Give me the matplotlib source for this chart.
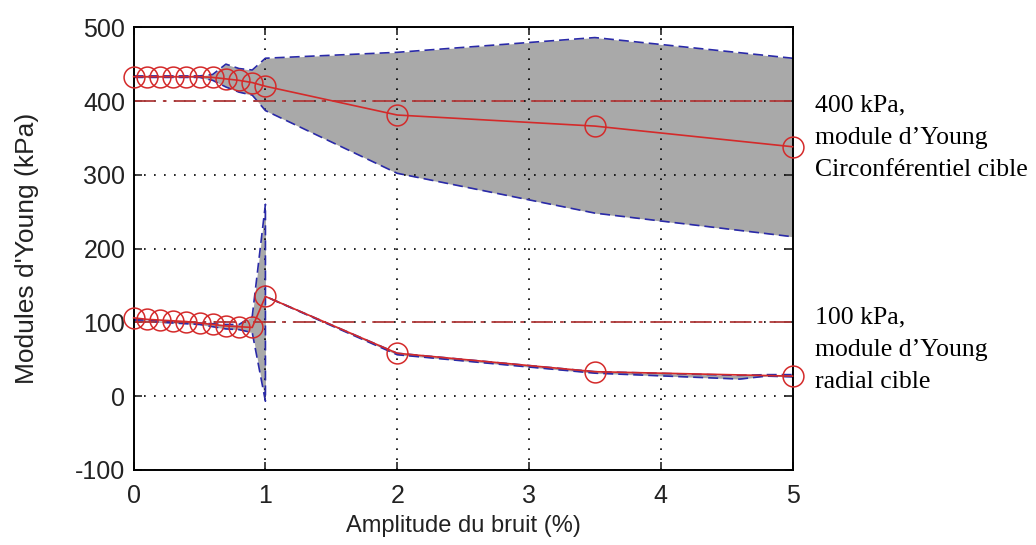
import matplotlib.pyplot as plt

# bruit (%) et modules estimes
bruit = [0, 0.1, 0.2, 0.3, 0.4, 0.5, 0.6, 0.7, 0.8, 0.9, 1.0, 2, 3.5, 5]
e_circ = [433, 433, 433, 433, 433, 433, 432, 430, 428, 425, 420, 381, 366, 338]
e_rad = [106, 104, 103, 102, 101, 99, 97, 95, 94, 93, 135, 58, 33, 27]

# enveloppes (min / max)
x_env_circ = [0, 0.1, 0.2, 0.3, 0.4, 0.5, 0.6, 0.7, 0.8, 0.9, 1.0, 2, 3.5, 5]
circ_haut = [434, 434, 434, 434, 434, 434, 436, 450, 444, 442, 458, 466, 486, 458]
circ_bas = [432, 432, 432, 432, 432, 432, 428, 419, 412, 408, 387, 302, 248, 216]

x_env_rad = [0, 0.1, 0.2, 0.3, 0.4, 0.5, 0.6, 0.7, 0.8, 0.9, 1.0, 1.0, 2, 3.5, 4.6, 4.8, 5]
rad_haut = [104, 103, 102, 101, 100, 99, 98, 97, 97, 108, 260, 135, 58, 33, 28, 29, 29]
rad_bas = [102, 101, 100, 99, 98, 97, 94, 91, 90, 86, -7, 135, 56, 31, 23, 27, 26]

cibles = [400, 100]

plt.rcParams['font.family'] = ['Liberation Sans', 'DejaVu Sans']
plt.rcParams['axes.unicode_minus'] = False

fig = plt.figure(figsize=(10.36, 5.45), dpi=100)
ax = fig.add_axes([0.129, 0.138, 0.636, 0.812])

gris = '#a9a9a9'
bleu = '#2a2aa8'
rouge = '#d42a2a'
rouge_fonce = '#b03a3a'

ax.fill_between(x_env_circ, circ_bas, circ_haut, color=gris, lw=0, zorder=0.5)
ax.fill_between(x_env_rad, rad_bas, rad_haut, color=gris, lw=0, zorder=0.5)
for xs, ys in [(x_env_circ, circ_haut), (x_env_circ, circ_bas),
               (x_env_rad, rad_haut), (x_env_rad, rad_bas)]:
    ax.plot(xs, ys, color=bleu, lw=1.2, ls=(0, (6, 3)), zorder=1.8)

for c in cibles:
    ax.axhline(c, color=rouge_fonce, lw=1.3, ls=(0, (12, 4, 2, 4)), zorder=1.9)

for ys in [e_circ, e_rad]:
    ax.plot(bruit, ys, color=rouge, lw=1.2, marker='o', ms=15, mfc='none',
            mec=rouge, mew=1.1, zorder=3, clip_on=False)

ax.set_xlim(0, 5)
ax.set_ylim(-100, 500)
ax.set_xticks([0, 1, 2, 3, 4, 5])
ax.set_yticks([-100, 0, 100, 200, 300, 400, 500])
ax.set_axisbelow('line')
ax.grid(True, color='black', ls=(0, (1, 5)), lw=1.2)
ax.tick_params(direction='in', top=True, right=True, length=6, width=1.2,
               labelsize=18, colors='#222222')
ax.tick_params(axis='x', pad=10)
ax.tick_params(axis='y', pad=6)
for s in ax.spines.values():
    s.set_linewidth(1.4)

ax.set_xlabel('Amplitude du bruit (%)', fontsize=17, labelpad=5, color='#222222')
ax.set_ylabel("Modules d'Young (kPa)", fontsize=19, labelpad=26, color='#222222')

serif = ['Liberation Serif', 'DejaVu Serif']
fig.text(0.787, 0.747, '400 kPa,\nmodule d\u2019Young\nCirconf\u00e9rentiel cible',
         family=serif, fontsize=18.5, va='center', ha='left', linespacing=1.6)
fig.text(0.787, 0.358, '100 kPa,\nmodule d\u2019Young\nradial cible',
         family=serif, fontsize=18.5, va='center', ha='left', linespacing=1.6)

fig.savefig('out.png', dpi=100)
